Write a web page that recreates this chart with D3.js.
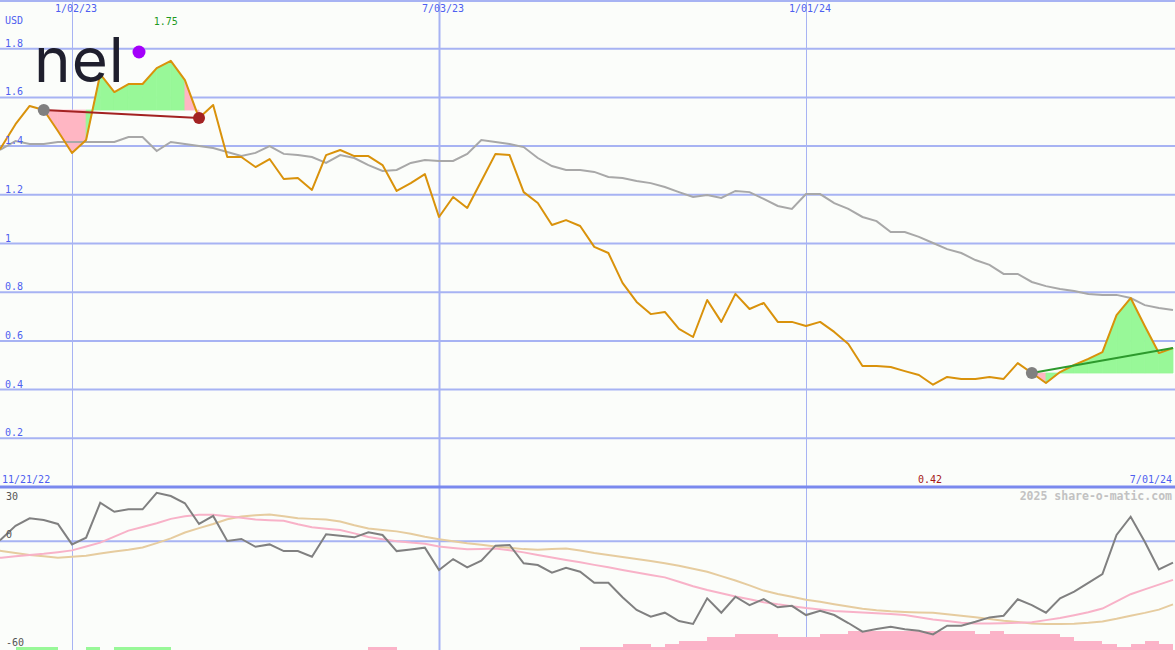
<!DOCTYPE html>
<html><head><meta charset="utf-8">
<script src="https://cdn.jsdelivr.net/npm/d3@7/dist/d3.min.js"></script>
<style>html,body{margin:0;padding:0;background:#fbfdfa;}svg{display:block;}</style>
</head><body>
<script>
// ---------- DATA ----------
const startDate = new Date(2022, 10, 21);   // first weekly point 11/21/22
const endDate = new Date(2024, 6, 1);       // last weekly point 7/01/24
const gridDates = [new Date(2023,0,2), new Date(2023,6,3), new Date(2024,0,1)];
const mainTicks = [0.2,0.4,0.6,0.8,1,1.2,1.4,1.6,1.8];
const oscTicks = [30, 0, -60];

const price = [1.33,1.396,1.49,1.565,1.548,1.462,1.372,1.425,1.696,1.622,1.655,1.655,1.72,1.75,1.671,1.515,1.569,
 1.355,1.355,1.314,1.347,1.265,1.269,1.22,1.363,1.384,1.359,1.359,1.322,1.216,1.248,1.285,1.109,1.191,1.146,
 1.257,1.368,1.363,1.211,1.166,1.076,1.096,1.072,0.986,0.961,0.838,0.760,0.710,0.719,0.649,0.616,0.768,0.678,
 0.793,0.731,0.756,0.678,0.678,0.661,0.678,0.637,0.587,0.497,0.497,0.493,0.476,0.46,0.42,0.452,0.444,0.444,
 0.452,0.444,0.509,0.468,0.427,0.472,0.501,0.526,0.554,0.706,0.776,0.661,0.55,0.571];

const avg = [1.363,1.388,1.421,1.409,1.409,1.417,1.417,1.417,1.417,1.417,1.437,1.437,1.380,1.417,1.409,1.400,1.392,
 1.376,1.359,1.372,1.400,1.368,1.363,1.355,1.331,1.363,1.351,1.322,1.298,1.302,1.331,1.343,1.339,1.339,1.368,
 1.425,1.417,1.409,1.396,1.351,1.318,1.302,1.302,1.294,1.273,1.269,1.257,1.248,1.232,1.211,1.191,1.199,1.187,
 1.216,1.211,1.183,1.154,1.142,1.203,1.203,1.166,1.142,1.109,1.092,1.047,1.047,1.027,1.002,0.977,0.961,0.932,
 0.912,0.875,0.875,0.842,0.825,0.813,0.805,0.793,0.789,0.789,0.776,0.747,0.735,0.727];

const osc = [-4.8,1.3,8.6,12.7,11.8,9.6,-1.7,2.0,21.3,16.3,17.7,17.7,26.8,25.0,21.0,9.6,14.0,0.2,1.3,-3.0,-1.7,
 -5.4,-5.4,-8.5,3.9,3.1,2.2,5.0,3.5,-5.4,-4.5,-3.5,-15.8,-9.8,-14.4,-10.7,-2.4,-2.0,-12.1,-13.1,-17.3,-14.6,
 -16.8,-22.9,-22.9,-30.9,-37.9,-41.6,-39.4,-44.0,-45.6,-31.5,-39.4,-30.6,-35.2,-31.9,-36.4,-35.6,-40.7,-38.3,
 -40.7,-45.1,-49.9,-48.4,-47.2,-48.6,-49.4,-51.4,-46.6,-46.6,-44.4,-42.0,-41.1,-32.0,-35.2,-39.4,-31.5,-27.8,
 -22.9,-18.1,3.5,13.6,-0.2,-15.5,-11.8];

const oscFast = [-9.5,-9.0,-8.3,-7.6,-6.9,-6.0,-5.0,-2.9,-0.7,2.6,5.9,7.9,10.0,12.4,13.8,14.7,14.7,13.9,13.0,12.1,
 11.7,11.3,9.4,7.8,7.0,6.3,4.4,2.4,1.2,0.1,-0.7,-1.3,-2.9,-3.7,-4.4,-4.2,-3.9,-4.9,-6.1,-7.5,-8.9,-10.3,-11.6,
 -13.0,-14.3,-15.8,-17.2,-18.6,-19.9,-22.3,-24.8,-26.9,-28.7,-30.5,-32.0,-33.6,-34.8,-35.8,-36.8,-37.6,-38.4,
 -38.9,-39.3,-39.7,-40.1,-40.7,-41.9,-43.1,-44.0,-45.0,-45.3,-45.3,-45.2,-45.0,-44.7,-43.5,-42.3,-40.8,-39.2,
 -37.1,-33.2,-29.2,-26.5,-23.9,-21.3];

const oscSlow = [-4.3,-5.3,-6.4,-7.6,-8.3,-9.0,-8.5,-7.9,-6.7,-5.6,-4.6,-3.4,-1.0,1.6,4.9,7.3,9.6,12.2,13.7,14.4,
 14.8,13.8,12.8,12.4,12.0,10.9,8.9,7.1,6.3,5.5,4.2,2.5,1.2,0.0,-1.1,-1.9,-2.8,-3.5,-4.3,-4.7,-4.3,-3.9,-5.1,
 -6.5,-7.6,-8.7,-9.7,-10.9,-12.1,-13.5,-15.1,-16.8,-19.2,-21.6,-24.3,-27.2,-29.1,-30.6,-32.2,-33.4,-34.7,-36.0,
 -37.2,-38.0,-38.6,-39.0,-39.3,-39.5,-40.3,-41.1,-41.9,-42.9,-43.8,-44.5,-45.3,-45.6,-45.7,-45.5,-45.0,-44.3,
 -42.8,-41.1,-39.5,-37.7,-34.8];

// signed histogram levels: + green, - pink
const bars = [0,0,1,1,1,0,0,1,0,1,1,1,1,0,0,0,0,0,0,0,0,0,0,0,0,0,0,-1,-1,0,0,0,0,0,0,0,0,0,0,0,0,0,
 -1,-1,-1,-2,-2,-1,-2,-3,-3,-4,-4,-5,-5,-5,-4,-4,-4,-5,-5,-6,-6,-6,-6,-6,-6,-6,-6,-6,-5,-6,-5,-5,-5,-5,-4,
 -3,-3,-2,-1,-2,-3,-2,0];

// trend segments (index of start / end weekly point)
const trends = [{from:4, to:15, color:"#a32222", endMarker:true}, {from:74, to:84, color:"#2d9a2d", endMarker:false}];

// ---------- LAYOUT ----------
const W = 1175, H = 650;
const svg = d3.select("body").append("svg").attr("width", W).attr("height", H);
svg.append("rect").attr("width", W).attr("height", H).attr("fill", "#fbfdfa");

const dates = d3.range(price.length).map(k => d3.timeDay.offset(startDate, 7*k));
const x = d3.scaleTime().domain([gridDates[0], gridDates[2]]).range([72, 806]);
const y = d3.scaleLinear().domain([0, 1.8]).range([487, 48.7]);
const yo = d3.scaleLinear().domain([-60, 30]).range([650, 487]);
const yb = d3.scaleLinear().domain([0, 6]).range([650, 631]);

const gridCol = "#a7b3f3";
const mono = "'DejaVu Sans Mono', monospace";

const defs = svg.append("defs");
defs.append("clipPath").attr("id","cm").append("rect").attr("x",0).attr("y",0).attr("width",W).attr("height",487);
defs.append("clipPath").attr("id","co").append("rect").attr("x",0).attr("y",488).attr("width",W).attr("height",162);

// horizontal grid (main)
svg.append("g").selectAll("line").data(mainTicks).join("line")
  .attr("x1",0).attr("x2",W).attr("y1",d=>y(d)).attr("y2",d=>y(d))
  .attr("stroke",gridCol).attr("stroke-width",2);
svg.append("line").attr("x1",0).attr("x2",W).attr("y1",1).attr("y2",1).attr("stroke",gridCol).attr("stroke-width",2);
svg.append("line").attr("x1",0).attr("x2",W).attr("y1",yo(0)).attr("y2",yo(0)).attr("stroke",gridCol).attr("stroke-width",2);
svg.append("g").selectAll("line").data(gridDates).join("line")
  .attr("x1",d=>Math.round(x(d))+0.5).attr("x2",d=>Math.round(x(d))+0.5).attr("y1",0).attr("y2",H)
  .attr("stroke",gridCol).attr("stroke-width",(d,i)=> i===1 ? 2 : 1);

// ---------- MAIN PANEL ----------
const gm = svg.append("g").attr("clip-path","url(#cm)");

trends.forEach(t => {
  const base = y(price[t.from]);
  for (let k = t.from; k < t.to; k++) {
    const x0 = x(dates[k]), x1 = x(dates[k+1]);
    const pts = [[x0, y(price[k])],[x1, y(price[k+1])],[x1, base],[x0, base]];
    const col = price[k+1] >= price[t.from] ? "#98f898" : "#ffb6c3";
    gm.append("path").attr("d", "M" + pts.join("L") + "Z")
      .attr("fill", col).attr("stroke", col).attr("stroke-width", 0.8);
  }
});

const lineMain = v => d3.line().x((d,i)=>x(dates[i])).y(d=>y(d))(v);
gm.append("path").attr("d", lineMain(avg)).attr("fill","none").attr("stroke","#a8a8a8").attr("stroke-width",2);
gm.append("path").attr("d", lineMain(price)).attr("fill","none").attr("stroke","#d9920b").attr("stroke-width",2).attr("stroke-linejoin","round");

trends.forEach(t => {
  gm.append("line").attr("x1",x(dates[t.from])).attr("y1",y(price[t.from]))
    .attr("x2",x(dates[t.to])).attr("y2",y(price[t.to]))
    .attr("stroke",t.color).attr("stroke-width",2);
  gm.append("circle").attr("cx",x(dates[t.from])).attr("cy",y(price[t.from])).attr("r",6).attr("fill","#808080");
  if (t.endMarker) gm.append("circle").attr("cx",x(dates[t.to])).attr("cy",y(price[t.to])).attr("r",6).attr("fill",t.color);
});

// ---------- OSCILLATOR ----------
const go = svg.append("g").attr("clip-path","url(#co)");
go.selectAll("rect.bar").data(bars).join("rect")
  .attr("shape-rendering","crispEdges")
  .attr("x",(d,i)=>Math.round(x(dates[i])))
  .attr("width",(d,i)=> i+1<dates.length ? Math.round(x(dates[i+1]))-Math.round(x(dates[i])) : 14)
  .attr("y",d=>Math.round(yb(Math.abs(d)))).attr("height",d=>650-Math.round(yb(Math.abs(d))))
  .attr("fill",d=> d>0 ? "#98f898" : "#fbb3c8");
const lineOsc = v => d3.line().x((d,i)=>x(dates[i])).y(d=>yo(d))(v);
go.append("path").attr("d", lineOsc(oscSlow)).attr("fill","none").attr("stroke","#e6cc9f").attr("stroke-width",2);
go.append("path").attr("d", lineOsc(oscFast)).attr("fill","none").attr("stroke","#f8b2c8").attr("stroke-width",2);
go.append("path").attr("d", lineOsc(osc)).attr("fill","none").attr("stroke","#808080").attr("stroke-width",2);

svg.append("line").attr("x1",0).attr("x2",W).attr("y1",487).attr("y2",487).attr("stroke","#7a89ee").attr("stroke-width",3);

// ---------- TEXT ----------
const txt = (s, xx, yy, col, anchor, size, weight) => svg.append("text").text(s)
  .attr("x",xx).attr("y",yy).attr("fill",col).attr("text-anchor",anchor||"start")
  .attr("font-family",mono).attr("font-size",size||10).attr("font-weight",weight||"normal");

const blue = "#4e5ff0";
mainTicks.forEach(v => txt(String(v), 5, y(v)-2, blue));
txt("USD", 5, 24, blue);
const fmt = d3.timeFormat("%-m/%d/%y");
gridDates.forEach(d => txt(fmt(d), x(d)+4, 12, blue, "middle"));
txt(fmt(startDate), 2, 483, blue);
txt(fmt(endDate), 1172, 483, blue, "end");

const iMax = d3.maxIndex(price), iMin = d3.minIndex(price);
txt(d3.format(".2f")(price[iMax]), x(dates[iMax])-5, 25, "#1f9a1f", "middle");
txt(d3.format(".2f")(price[iMin]), x(dates[iMin])-3, 483, "#a51616", "middle");

oscTicks.forEach(v => txt(String(v), 6, v===30 ? 500 : (v===0 ? yo(0)-3 : 646), "#555555"));
txt("2025 share-o-matic.com", 1172, 500, "#c2c2c2", "end", 11.5, "bold");

// logo
svg.append("text").text("nel").attr("x",34).attr("y",82)
  .attr("font-family","Inter, 'Noto Sans', sans-serif").attr("font-size",62).attr("font-weight",400)
  .attr("letter-spacing",1).attr("fill","#1f1f2d");
svg.append("circle").attr("cx",139).attr("cy",52).attr("r",6.5).attr("fill","#a300fa");
</script>
</body></html>
